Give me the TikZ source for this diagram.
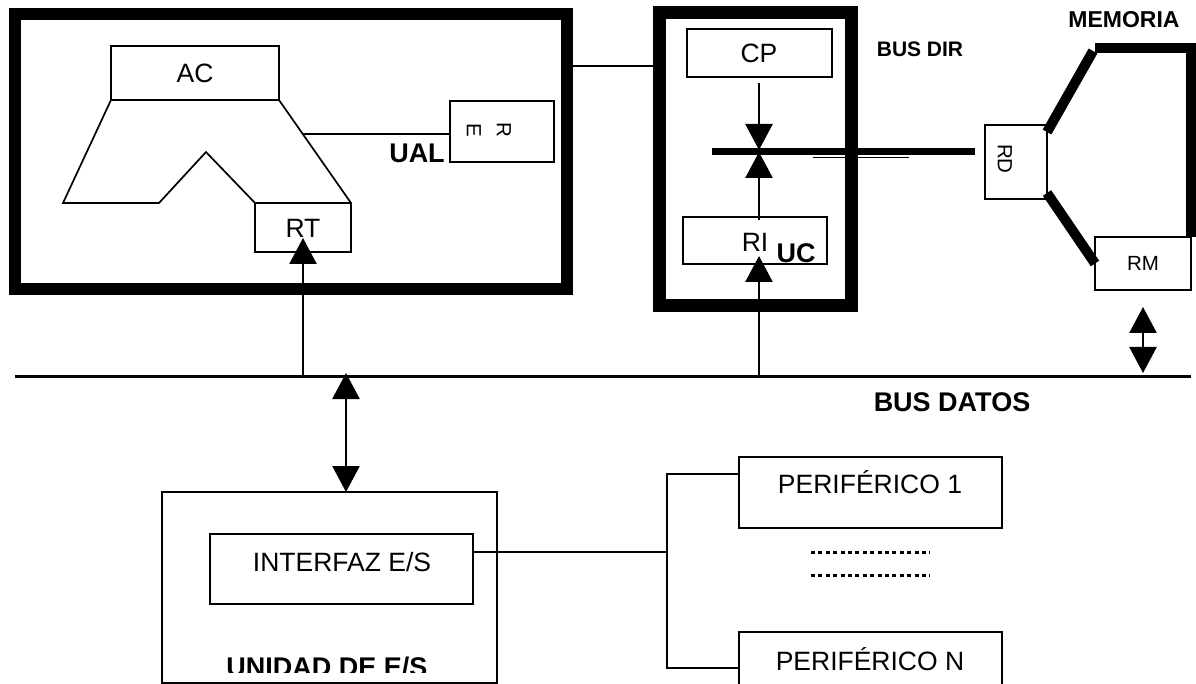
\documentclass[tikz,border=0pt]{standalone}
\usepackage{fontspec}
\setmainfont{Liberation Sans}
\usetikzlibrary{arrows.meta}
\begin{document}
\begin{tikzpicture}[x=1pt,y=-1pt,
  box/.style={draw,line width=1.9pt,inner sep=0pt,outer sep=0pt,rectangle},
  heavybox/.style={draw,inner sep=0pt,outer sep=0pt,rectangle},
  lbl/.style={font=\fontsize{26.5}{30}\selectfont,inner sep=0pt,anchor=base},
  blbl/.style={font=\fontsize{27}{30}\selectfont\bfseries,inner sep=0pt,anchor=base},
  slbl/.style={font=\fontsize{20.5}{24}\selectfont,inner sep=0pt},
  conn/.style={line width=1.7pt},
  arr/.style={line width=2.6pt,-{Triangle[width=27pt,length=26pt]}},
  darr/.style={line width=2.6pt,{Triangle[width=27pt,length=26pt]}-{Triangle[width=27pt,length=26pt]}},
  memline/.style={line width=10pt},
]
\useasboundingbox (0,0) rectangle (1196,684);
\clip (0,0) rectangle (1196,684);

% ---------- UAL ----------
\node[heavybox,line width=12pt,minimum width=552pt,minimum height=275pt] (ual) at (291,151.5) {};
\node[box,minimum width=168pt,minimum height=54pt] (ac) at (195,73) {};
\node[lbl] (actxt) at (195,82.5) {AC};
\node[box,minimum width=96pt,minimum height=49pt] (rt) at (303,227.5) {};
\node[lbl] (rttxt) at (303,238) {RT};
\node[box,minimum width=104pt,minimum height=61pt] (re) at (502,131.5) {};
\node[slbl,rotate=-90] (retxtE) at (474,130) {E};
\node[slbl,rotate=-90] (retxtR) at (504,130) {R};
\node[blbl] (ualtxt) at (417,163) {UAL};
\draw[conn] (ac.south west) -- (63,203) -- (159,203) -- (206,152) -- (rt.north west);
\draw[conn] (ac.south east) -- (rt.north east);
\draw[conn] (303,134) -- (re.west |- 0,134);

% ---------- UC ----------
\node[heavybox,line width=13pt,minimum width=191.5pt,minimum height=292.5pt] (uc) at (755.25,159.25) {};
\node[box,minimum width=145pt,minimum height=48pt] (cp) at (759.5,53) {};
\node[lbl] (cptxt) at (759,63) {CP};
\node[box,minimum width=144pt,minimum height=47pt] (ri) at (755,240.5) {};
\node[lbl] (ritxt) at (755,252) {RI};
\node[blbl] (uctxt) at (796,263) {UC};
\draw[conn] (ual.east |- 0,66) -- (uc.west |- 0,66);

% bus de direcciones
\coordinate (bdL) at (712,152);
\coordinate (bdR) at (975,152);
\draw[line width=7pt] (bdL) -- (bdR);
\draw[line width=1.9pt] (813,157.5) -- (909,157.5);
\node[font=\fontsize{21}{24}\selectfont\bfseries,inner sep=0pt,anchor=base] (busdir) at (920,57) {BUS DIR};

\draw[arr] (759,83) -- (759,150);
\draw[arr] (759,220) -- (759,152);

% ---------- MEMORIA ----------
\node[box,minimum width=62pt,minimum height=74pt] (rd) at (1016,162) {};
\node[slbl,rotate=-90] (rdtxt) at (1005,159) {RD};
\node[box,minimum width=96pt,minimum height=53pt] (rm) at (1143,263.5) {};
\node[slbl,anchor=base] (rmtxt) at (1143,271) {RM};
\node[font=\fontsize{23}{26}\selectfont\bfseries,inner sep=0pt,anchor=base] (memtxt) at (1124,28) {MEMORIA};
\draw[memline] ([yshift=-7pt]rd.north east) -- (1093,51);
\draw[memline] (1095,48) -- (1191,48) -- (rm.north east);
\draw[memline] ([yshift=6pt]rd.south east) -- (rm.west);

% ---------- BUS DATOS ----------
\coordinate (busL) at (15,376);
\coordinate (busR) at (1191,376);
\draw[line width=3pt] (busL) -- (busR);
\node[blbl] (busdatos) at (952,411) {BUS DATOS};

\draw[arr] (303,376) -- (303,238);
\draw[arr] (759,376) -- (759,256);
\draw[darr] (1143,307) -- (1143,373);

% ---------- UNIDAD E/S ----------
\node[box,minimum width=335pt,minimum height=191pt] (unidad) at (329.5,587.5) {};
\node[box,minimum width=263pt,minimum height=70pt] (if) at (341.5,569) {};
\node[lbl] (iftxt) at (342,571) {INTERFAZ E/S};
\begin{scope}
  \clip (150,600) rectangle (500,672);
  \node[blbl] (unidadtxt) at (327,676.6) {UNIDAD DE E/S};
\end{scope}
\draw[darr] (346,373) -- (unidad.north -| 346,0);

% ---------- PERIFERICOS ----------
\node[box,minimum width=263pt,minimum height=71pt] (p1) at (870.5,492.5) {};
\node[lbl] (p1txt) at (870,493) {PERIFÉRICO 1};
\node[box,minimum width=263pt,minimum height=71pt] (pn) at (870.5,667.5) {};
\node[lbl] (pntxt) at (870,670) {PERIFÉRICO N};
\coordinate (junc) at (667,552);
\draw[conn] (if.east |- junc) -- (junc);
\draw[conn] (p1.west |- 0,474) -- (667,474) -- (667,668) -- (pn.west |- 0,668);
\draw[line width=3pt,dash pattern=on 4pt off 3.4pt] (811,552) -- (930,552);
\draw[line width=3pt,dash pattern=on 4pt off 3.4pt] (811,575) -- (930,575);
\end{tikzpicture}
\end{document}
